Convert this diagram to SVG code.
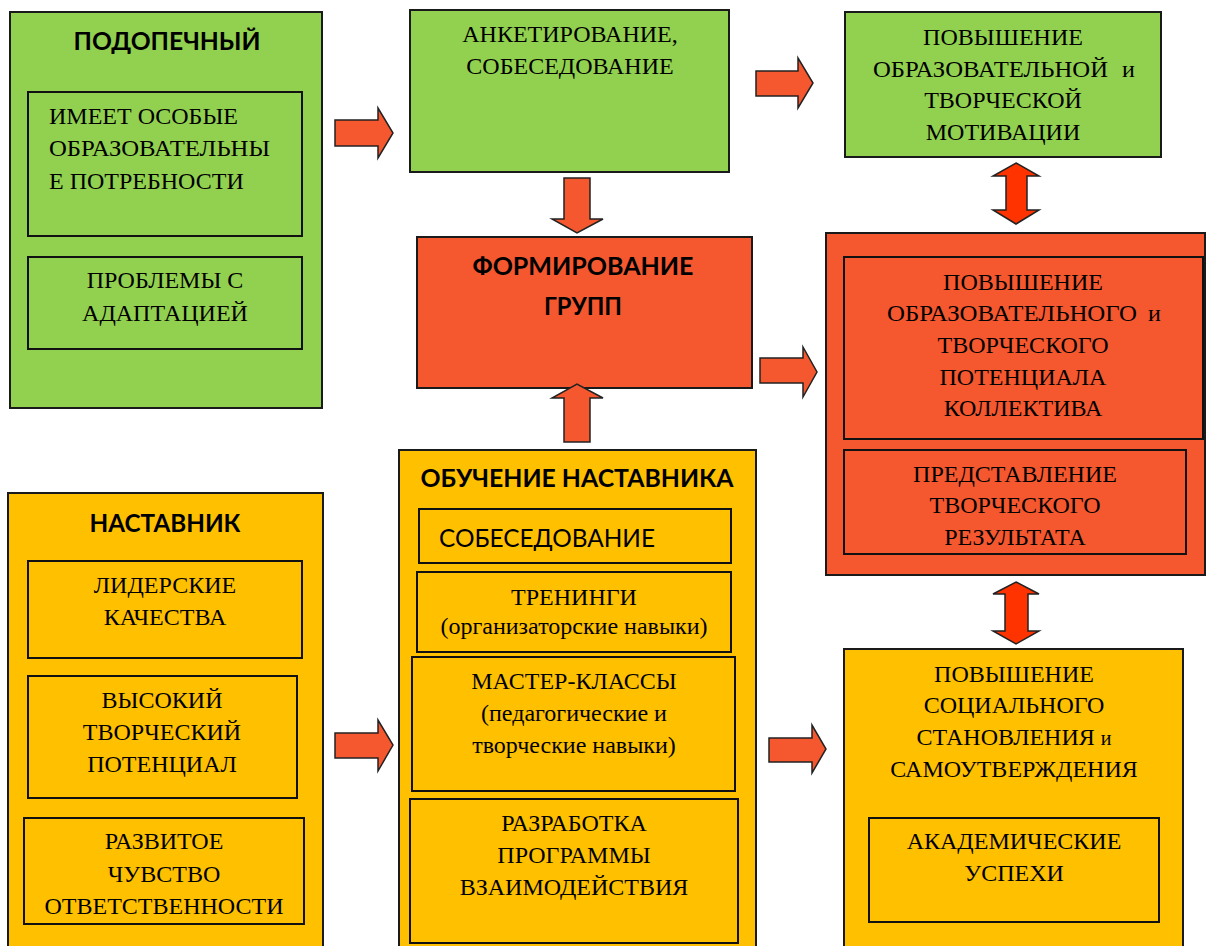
<svg xmlns="http://www.w3.org/2000/svg" width="1206" height="946" viewBox="0 0 1206 946">
<style>
.g{fill:#92D050;stroke:#1a1a1a;stroke-width:2}
.y{fill:#FFC000;stroke:#1a1a1a;stroke-width:2}
.r{fill:#F5572F;stroke:#1a1a1a;stroke-width:2}
.in{fill:none;stroke:#111;stroke-width:2}
.t{font-family:"Liberation Serif","Times New Roman",serif;font-size:24px;fill:#000}
.c{text-anchor:middle}
.b{font-family:Lato,"Liberation Sans",sans-serif;font-weight:bold;font-size:25px;fill:#000;text-anchor:middle}
.s{font-family:Lato,"Liberation Sans",sans-serif;font-size:25px;fill:#000}
.ar{fill:#F5572F;stroke:#222;stroke-width:1.5;stroke-linejoin:miter}
.da{fill:#FF3300;stroke:#222;stroke-width:1.5}
</style>
<rect width="1206" height="946" fill="#fff"/>

<g id="podopechny">
<rect class="g" x="10" y="12" width="312" height="396"/>
<text class="b" x="167" y="50" textLength="187" lengthAdjust="spacingAndGlyphs">ПОДОПЕЧНЫЙ</text>
<rect class="in" x="28" y="92" width="274" height="144"/>
<text class="t" x="49" y="124">ИМЕЕТ ОСОБЫЕ</text>
<text class="t" x="49" y="156" textLength="221" lengthAdjust="spacingAndGlyphs">ОБРАЗОВАТЕЛЬНЫ</text>
<text class="t" x="49" y="189">Е ПОТРЕБНОСТИ</text>
<rect class="in" x="28" y="257" width="274" height="92"/>
<text class="t c" x="165" y="288">ПРОБЛЕМЫ С</text>
<text class="t c" x="165" y="321">АДАПТАЦИЕЙ</text>
</g>

<g id="anketirovanie">
<rect class="g" x="410" y="10" width="319" height="162"/>
<text class="t c" x="570" y="42">АНКЕТИРОВАНИЕ,</text>
<text class="t c" x="570" y="74">СОБЕСЕДОВАНИЕ</text>
</g>

<g id="motivatsiya">
<rect class="g" x="845" y="12" width="316" height="145"/>
<text class="t c" x="1003" y="45">ПОВЫШЕНИЕ</text>
<text class="t" x="873" y="77" textLength="235" lengthAdjust="spacingAndGlyphs">ОБРАЗОВАТЕЛЬНОЙ</text>
<text class="t" x="1122" y="77" font-size="20">и</text>
<text class="t c" x="1003" y="108">ТВОРЧЕСКОЙ</text>
<text class="t c" x="1003" y="140">МОТИВАЦИИ</text>
</g>

<g id="formirovanie">
<rect class="r" x="417" y="237" width="335" height="151"/>
<text class="b" x="583" y="275" textLength="221" lengthAdjust="spacingAndGlyphs">ФОРМИРОВАНИЕ</text>
<text class="b" x="583" y="315" textLength="78" lengthAdjust="spacingAndGlyphs">ГРУПП</text>
</g>

<g id="potentsial">
<rect class="r" x="826" y="233" width="379" height="342"/>
<rect class="in" x="844" y="257" width="359" height="182"/>
<text class="t c" x="1023" y="290">ПОВЫШЕНИЕ</text>
<text class="t" x="887" y="321" textLength="250" lengthAdjust="spacingAndGlyphs">ОБРАЗОВАТЕЛЬНОГО</text>
<text class="t" x="1148" y="321" font-size="20">и</text>
<text class="t c" x="1023" y="353">ТВОРЧЕСКОГО</text>
<text class="t c" x="1023" y="385">ПОТЕНЦИАЛА</text>
<text class="t c" x="1023" y="416">КОЛЛЕКТИВА</text>
<rect class="in" x="844" y="450" width="342" height="104"/>
<text class="t c" x="1015" y="482">ПРЕДСТАВЛЕНИЕ</text>
<text class="t c" x="1015" y="513">ТВОРЧЕСКОГО</text>
<text class="t c" x="1015" y="545">РЕЗУЛЬТАТА</text>
</g>

<g id="nastavnik">
<rect class="y" x="8" y="493" width="315" height="460"/>
<text class="b" x="165" y="532" textLength="151" lengthAdjust="spacingAndGlyphs">НАСТАВНИК</text>
<rect class="in" x="28" y="561" width="274" height="97"/>
<text class="t c" x="165" y="593">ЛИДЕРСКИЕ</text>
<text class="t c" x="165" y="625">КАЧЕСТВА</text>
<rect class="in" x="28" y="676" width="269" height="122"/>
<text class="t c" x="162" y="708">ВЫСОКИЙ</text>
<text class="t c" x="162" y="740">ТВОРЧЕСКИЙ</text>
<text class="t c" x="162" y="772">ПОТЕНЦИАЛ</text>
<rect class="in" x="24" y="818" width="280" height="106"/>
<text class="t c" x="164" y="849">РАЗВИТОЕ</text>
<text class="t c" x="164" y="882">ЧУВСТВО</text>
<text class="t c" x="164" y="914">ОТВЕТСТВЕННОСТИ</text>
</g>

<g id="obuchenie">
<rect class="y" x="399" y="450" width="357" height="503"/>
<text class="b" x="577" y="487" textLength="313" lengthAdjust="spacingAndGlyphs">ОБУЧЕНИЕ НАСТАВНИКА</text>
<rect class="in" x="419" y="509" width="312" height="54"/>
<text class="s" x="439" y="547" textLength="216" lengthAdjust="spacingAndGlyphs">СОБЕСЕДОВАНИЕ</text>
<rect class="in" x="417" y="572" width="314" height="80"/>
<text class="t c" x="574" y="605">ТРЕНИНГИ</text>
<text class="t c" x="574" y="634">(организаторские навыки)</text>
<rect class="in" x="412" y="657" width="323" height="134"/>
<text class="t c" x="574" y="689">МАСТЕР-КЛАССЫ</text>
<text class="t c" x="574" y="721">(педагогические и</text>
<text class="t c" x="574" y="753">творческие навыки)</text>
<rect class="in" x="410" y="799" width="328" height="144"/>
<text class="t c" x="574" y="831">РАЗРАБОТКА</text>
<text class="t c" x="574" y="863">ПРОГРАММЫ</text>
<text class="t c" x="574" y="895">ВЗАИМОДЕЙСТВИЯ</text>
</g>

<g id="sotsialnoe">
<rect class="y" x="844" y="649" width="339" height="304"/>
<text class="t c" x="1014" y="682">ПОВЫШЕНИЕ</text>
<text class="t c" x="1014" y="713">СОЦИАЛЬНОГО</text>
<text class="t c" x="1014" y="745">СТАНОВЛЕНИЯ <tspan font-size="20">и</tspan></text>
<text class="t c" x="1014" y="777">САМОУТВЕРЖДЕНИЯ</text>
<rect class="in" x="869" y="818" width="290" height="104"/>
<text class="t c" x="1014" y="849">АКАДЕМИЧЕСКИЕ</text>
<text class="t c" x="1014" y="881">УСПЕХИ</text>
</g>

<g id="connectors">
<path class="ar" d="M335,120 H378 V108 L393,133 L378,158 V146 H335 Z"/>
<path class="ar" d="M756,71 H798 V58 L813,83 L798,108 V96 H756 Z"/>
<path class="ar" d="M760,358 H803 V347 L817,372 L803,397 V383 H760 Z"/>
<path class="ar" d="M335,733 H378 V720 L393,745 L378,771 V758 H335 Z"/>
<path class="ar" d="M769,738 H812 V725 L826,749 L812,773 V762 H769 Z"/>
<path class="ar" d="M564,178 H590 V219 H603 L577,233 L552,219 H564 Z"/>
<path class="ar" d="M564,442 H590 V398 H603 L577,384 L552,398 H564 Z"/>
<path class="da" d="M1016,163 L1039,176 H1027 V210 H1039 L1016,224 L993,210 H1006 V176 H993 Z"/>
<path class="da" d="M1016,582 L1039,594 H1028 V631 H1039 L1016,644 L993,631 H1005 V594 H993 Z"/>
</g>
</svg>
